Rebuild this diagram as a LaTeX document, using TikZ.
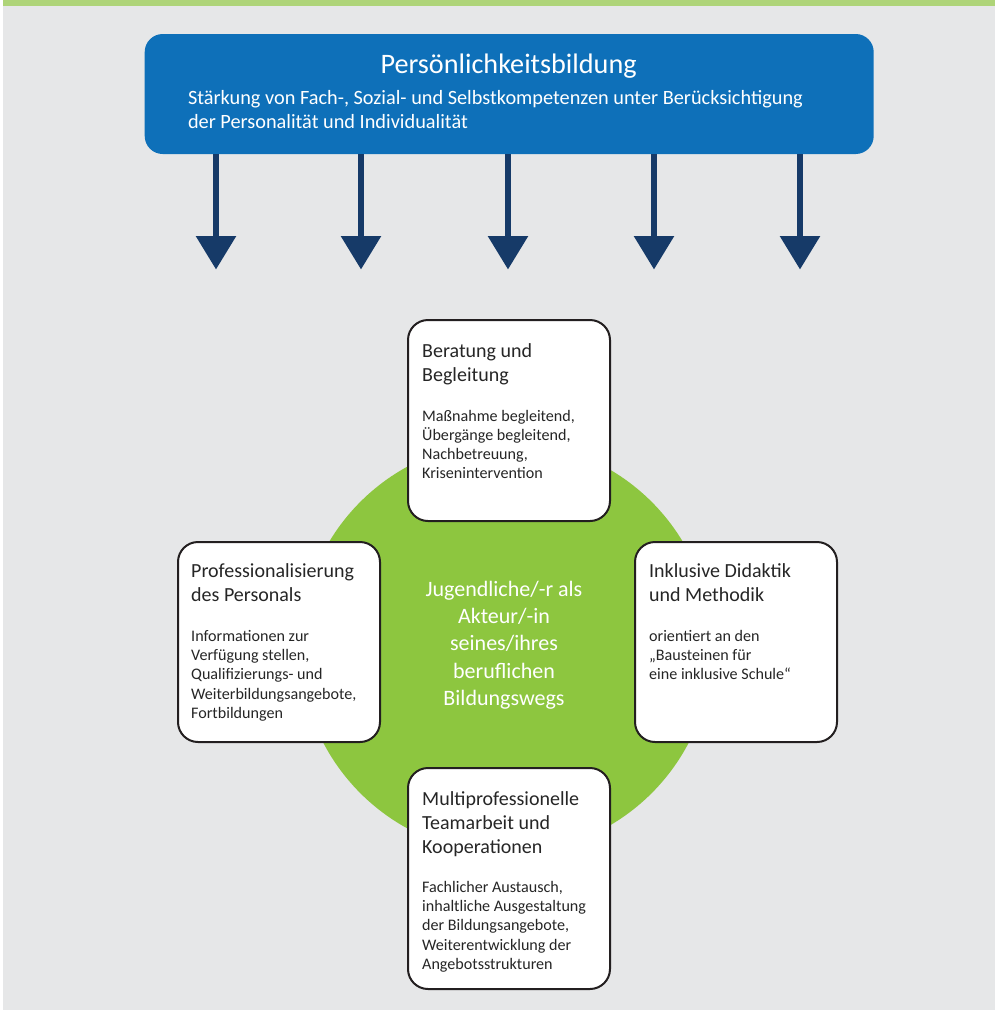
\documentclass[tikz,border=0pt]{standalone}
\usepackage{fontspec}
\setmainfont{Carlito}
\usetikzlibrary{arrows.meta}
\definecolor{bgGray}{RGB}{230,231,232}
\definecolor{stripGreen}{RGB}{174,212,120}
\definecolor{headBlue}{RGB}{14,112,185}
\definecolor{arrowNavy}{RGB}{22,58,104}
\definecolor{circGreen}{RGB}{141,198,63}
\definecolor{boxLine}{RGB}{35,31,32}
\tikzset{
  infobox/.style={draw=boxLine, line width=2pt, fill=white, rounded corners=20pt,
    minimum width=202pt, inner sep=0pt},
  boxtitle/.style={anchor=base west, inner sep=0pt, text=black!85,
    font=\fontsize{20}{24.3}\selectfont},
  boxbody/.style={anchor=base west, inner sep=0pt, text=black!85,
    font=\fontsize{16.1}{19.1}\selectfont},
  downarrow/.style={draw=arrowNavy, line width=6pt,
    -{Triangle[width=39pt,length=33.5pt]}, arrowNavy}
}
\newcommand{\boxtext}[1]{\parbox[t]{200pt}{\raggedright #1}}
\begin{document}
\begin{tikzpicture}[x=1pt,y=-1pt]
\useasboundingbox (0,0) rectangle (995,1010);
\fill[white] (0,0) rectangle (995,1010);
\fill[bgGray] (3,0) rectangle (995,1010);
\fill[stripGreen] (3,0) rectangle (995,5.7);
% green circle
\fill[circGreen] (506,647.5) circle[radius=206];
% header box
\node[fill=headBlue, rounded corners=18pt, minimum width=729pt, minimum height=120pt, inner sep=0pt] (head) at (509.2,94) {};
\node[anchor=base, inner sep=0pt, text=white, font=\fontsize{28.2}{30}\selectfont] (headtitle) at (508.6,73.3) {Persönlichkeitsbildung};
\node[anchor=base west, inner sep=0pt, text=white, font=\fontsize{20.3}{24.3}\selectfont] (headsub) at (187.8,104)
  {\parbox[t]{680pt}{\raggedright Stärkung von Fach-, Sozial- und Selbstkompetenzen unter Berücksichtigung\\der Personalität und Individualität}};
% arrows
\foreach \i/\x in {1/216,2/361,3/508,4/654,5/800}{
  \coordinate (a\i) at (\x,154);
  \coordinate (t\i) at (\x,269.5);
  \draw[downarrow] (a\i) -- (t\i);
}
% boxes
\node[infobox, minimum height=201pt] (beratung) at (509,420.5) {};
\node[infobox, minimum height=200pt] (prof) at (279,642) {};
\node[infobox, minimum height=200pt] (inkl) at (736,642) {};
\node[infobox, minimum height=221pt] (multi) at (509,878.5) {};
% center text
\node[anchor=base, inner sep=0pt, text=white, font=\fontsize{22}{27.1}\selectfont] (center) at (504,596.7)
  {\parbox[t]{220pt}{\centering Jugendliche/-r als\\Akteur/-in\\seines/ihres\\beruflichen\\Bildungswegs}};
% box texts
\node[boxtitle] (berT) at (422,357) {\boxtext{Beratung und\\Begleitung}};
\node[boxbody] (berB) at (422,421) {\boxtext{Maßnahme begleitend,\\Übergänge begleitend,\\Nachbetreuung,\\Krisenintervention}};
\node[boxtitle] (profT) at (191,577) {\boxtext{Professionalisierung\\des Personals}};
\node[boxbody] (profB) at (191,641.7) {\boxtext{Informationen zur\\Verfügung stellen,\\Qualifizierungs- und\\Weiterbildungsangebote,\\Fortbildungen}};
\node[boxtitle] (inklT) at (649,577) {\boxtext{Inklusive Didaktik\\und Methodik}};
\node[boxbody] (inklB) at (649,641.7) {\boxtext{orientiert an den\\„Bausteinen für\\eine inklusive Schule“}};
\node[boxtitle] (multiT) at (422,805) {\boxtext{Multiprofessionelle\\Teamarbeit und\\Kooperationen}};
\node[boxbody] (multiB) at (422,892.7) {\boxtext{Fachlicher Austausch,\\inhaltliche Ausgestaltung\\der Bildungsangebote,\\Weiterentwicklung der\\Angebotsstrukturen}};
\end{tikzpicture}
\end{document}
